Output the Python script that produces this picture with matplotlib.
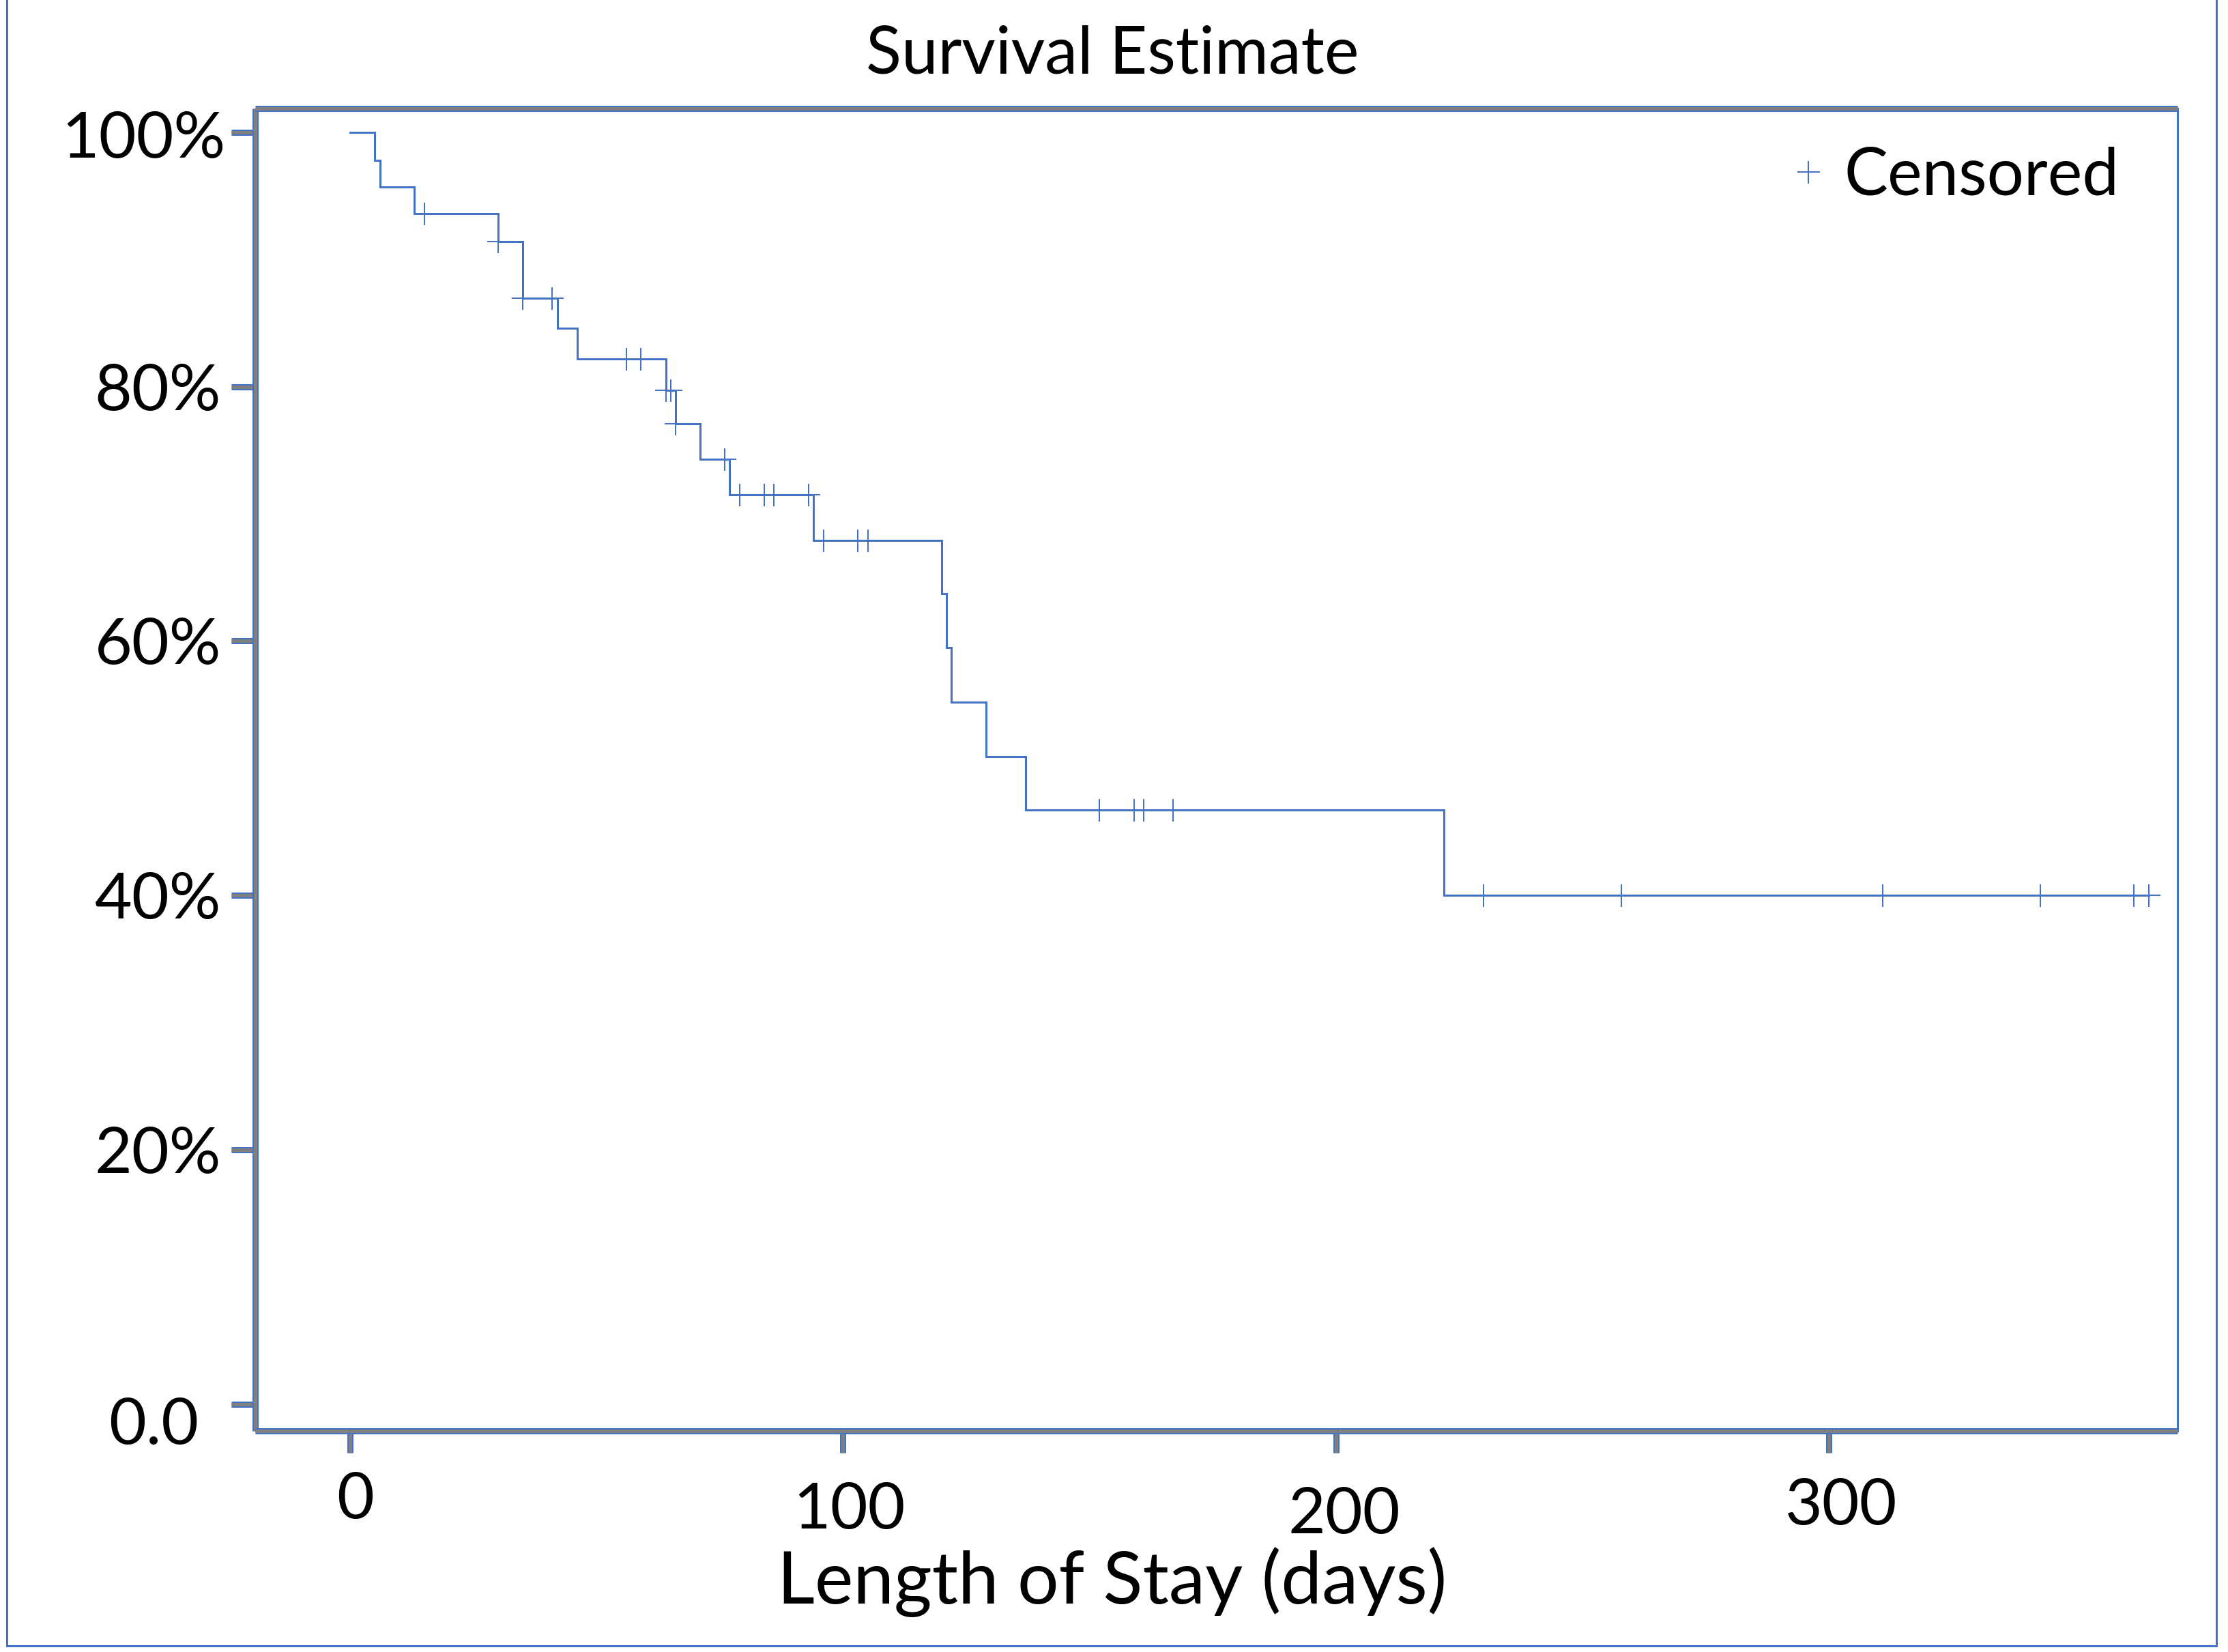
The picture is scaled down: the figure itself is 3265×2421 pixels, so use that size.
import matplotlib
matplotlib.use("Agg")
import matplotlib.pyplot as plt
import matplotlib.patheffects as pe
from matplotlib.transforms import ScaledTranslation
from matplotlib.lines import Line2D
import numpy as np

# ---- data ----
event_times = [0, 5, 6, 13, 30, 35, 42, 46, 64, 66, 71, 77,
               94, 120, 121, 122, 129, 137, 222]
surv_levels = [1.000, 0.978, 0.957, 0.936, 0.914, 0.8695, 0.846, 0.822, 0.797, 0.771,
               0.743, 0.715, 0.679, 0.637, 0.595, 0.552, 0.509, 0.467, 0.400]
end_time = 365
censor_times = [15, 30, 35, 41, 56, 59, 64, 65, 66, 76, 79, 84, 86, 93, 96, 103, 105,
                152, 159, 161, 167, 230, 258, 311, 343, 362, 365]
x_ticks = [0, 100, 200, 300]
y_ticks = [0.0, 0.2, 0.4, 0.6, 0.8, 1.0]
y_tick_labels = ["0.0", "20%", "40%", "60%", "80%", "100%"]
title = "Survival Estimate"
x_label = "Length of Stay (days)"
legend_label = "Censored"

BLUE = "#4472C4"
GRAY = "#808080"
W, H, DPI = 3265, 2421, 100
px = 72.0 / DPI  # points per pixel

plt.rcParams['font.family'] = ['Lato', 'DejaVu Sans']

fig = plt.figure(figsize=(W / DPI, H / DPI), dpi=DPI)
ax = fig.add_axes([374 / W, 1 - 2097 / H, (3191 - 374) / W, (2097 - 159) / H])

# step curve
xs = list(event_times) + [end_time]
ys = list(surv_levels) + [surv_levels[-1]]
ax.step(xs, ys, where='post', color=BLUE, lw=3 * px, solid_joinstyle='miter')

# censor marks
et = np.array(event_times)
sl = np.array(surv_levels)
c_lv = sl[np.searchsorted(et, np.array(censor_times), side='right') - 1]
ax.plot(censor_times, c_lv, linestyle='none', marker='+', color=BLUE,
        markersize=33 * px, markeredgewidth=2 * px, label=legend_label)

ax.set_xlim(-19.3, 370.8)
ax.set_ylim(-0.0209, 1.0186)
ax.set_xticks(x_ticks)
ax.set_xticklabels([str(t) for t in x_ticks])
ax.set_yticks(y_ticks)
ax.set_yticklabels(y_tick_labels)

# spines: gray core with blue outline
outline = [pe.withStroke(linewidth=9 * px, foreground=BLUE)]
for side in ['left', 'bottom', 'top']:
    sp = ax.spines[side]
    sp.set_color(GRAY)
    sp.set_linewidth(5 * px)
    sp.set_path_effects(outline)
    sp.set_capstyle('butt')
ax.spines['right'].set_color(BLUE)
ax.spines['right'].set_linewidth(3 * px)

ax.tick_params(axis='both', direction='out', color=GRAY, width=5 * px,
               labelsize=68, labelcolor='black')
ax.tick_params(axis='x', length=32 * px, pad=28 * px)
ax.tick_params(axis='y', length=35 * px, pad=15 * px)
for t in ax.xaxis.get_major_ticks() + ax.yaxis.get_major_ticks():
    t.tick1line.set_path_effects([pe.withStroke(linewidth=9 * px, foreground=BLUE)])

# small per-label offsets as in reference (pixels)
x_off = [(7, 0), (9, -15), (12, -22), (18, -9)]
for lab, (dx, dy) in zip(ax.get_xticklabels(), x_off):
    lab.set_transform(lab.get_transform() + ScaledTranslation(dx / DPI, dy / DPI, fig.dpi_scale_trans))
y_off = [(-33, -24), (0, 0), (0, 0), (0, 0), (0, 0), (6, -3)]
for lab, (dx, dy) in zip(ax.get_yticklabels(), y_off):
    lab.set_transform(lab.get_transform() + ScaledTranslation(dx / DPI, dy / DPI, fig.dpi_scale_trans))

# title and x label
fig.text(1630 / W, 1 - 107 / H, title, ha='center', va='baseline', fontsize=69)
ax.set_xlabel(x_label, fontsize=77, va='baseline')
ax.xaxis.set_label_coords((1630 - 374) / (3191 - 374), -(2350 - 2097) / (2097 - 159))

# legend
leg = ax.legend(loc='center left', bbox_to_anchor=(2626 / W, 1 - 259 / H),
                bbox_transform=fig.transFigure, frameon=False, fontsize=69,
                borderpad=0, borderaxespad=0, handlelength=0.5, handletextpad=0.3,
                markerscale=1.0)

# outer figure border (left, bottom, right)
for xx, yy in [([10, 10], [-50, 2412]), ([10, 3248], [2412, 2412]), ([3248, 3248], [2412, -50])]:
    fig.add_artist(Line2D([x / W for x in xx], [1 - y / H for y in yy],
                          transform=fig.transFigure, color=BLUE, lw=3 * px, clip_on=False))

fig.savefig("out.png", dpi=DPI)
